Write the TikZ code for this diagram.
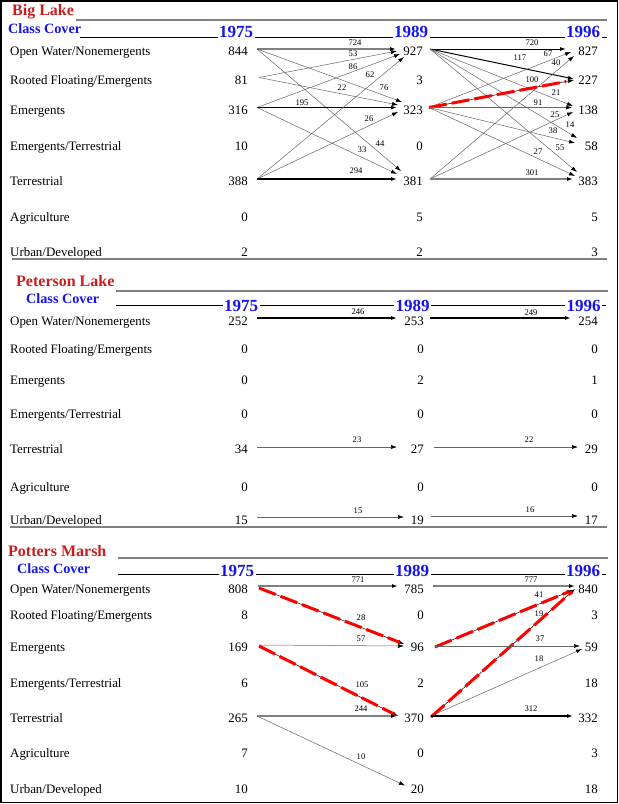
\documentclass[tikz,border=0pt]{standalone}
\usepackage{fontspec}
\setmainfont{Liberation Serif}
\usetikzlibrary{arrows.meta,calc}
\definecolor{ttlred}{RGB}{200,30,30}
\definecolor{yrblue}{RGB}{20,20,235}
\definecolor{secgray}{RGB}{128,128,128}
\tikzset{
  rowlbl/.style={anchor=base west, inner sep=0pt, font=\fontsize{12.9}{14}\selectfont},
  num/.style={anchor=east, inner sep=0pt, font=\fontsize{12.9}{14}\selectfont},
  flow/.style={font=\fontsize{8.6}{9}\selectfont, inner sep=0pt},
  ttl/.style={anchor=base west, inner sep=0pt, text=ttlred, font=\bfseries\fontsize{16}{18}\selectfont},
  cls/.style={anchor=base west, inner sep=0pt, text=yrblue, font=\bfseries\fontsize{14.2}{16}\selectfont},
  year/.style={anchor=base, fill=white, inner sep=1.5pt, text=yrblue, font=\bfseries\fontsize{17}{19}\selectfont},
  tipa/.style={-{Latex[length=6pt,width=4pt,color=black]}},
  fthin/.style={tipa, draw=black!60, line width=0.5pt},
  fgray/.style={tipa, draw=black!50, line width=1.6pt},
  fblack/.style={tipa, draw=black, line width=1.4pt},
  fmed/.style={tipa, draw=black, line width=1pt},
  fbase/.style={tipa, draw=black, line width=0.5pt},
  fred/.style={draw=red, line width=3pt, dash pattern=on 18pt off 5pt},
  secline/.style={draw=secgray, line width=2pt},
  hdline/.style={draw=black, line width=1pt},
}
\begin{document}
\begin{tikzpicture}[x=1pt,y=-1pt]
\useasboundingbox (0,0) rectangle (619,804);
\draw[line width=1.2pt] (1,1) rectangle (617.5,802.5);

%% ================= Big Lake =================
\node[ttl] (bttl) at (12,15.7) {Big Lake};
\draw[secline] (76,20) -- (607,20);
\node[cls] (bcls) at (8,33.3) {Class Cover};
\draw[hdline] (80,37.3) -- (607,37.3);
\node[year] (by1) at (236,37.7) {1975};
\node[year] (by2) at (411,37.7) {1989};
\node[year] (by3) at (583,37.7) {1996};

\foreach \y/\t [count=\i] in {51.5/{Open Water/Nonemergents},80/{Rooted Floating/Emergents},110/{Emergents},146.5/{Emergents/Terrestrial},181.5/{Terrestrial},217/{Agriculture},252/{Urban/Developed}}
  \node[rowlbl] (bL\i) at (10,\y+4.4) {\t};

\foreach \a/\b/\c/\y [count=\i] in {844/927/827/51.5,81/3/227/80,316/323/138/110,10/0/58/146.5,388/381/383/181.5,0/5/5/217,2/2/3/252}{
  \node[num] (bA\i) at (248,\y) {\a};
  \node[num] (bB\i) at (423,\y) {\b};
  \node[num] (bC\i) at (598,\y) {\c};
}
\draw[secline] (12,258.8) -- (607,258.8);

% 1975 -> 1989
\draw[fgray]  ($(bA1.east)+(9,-2.5)$) -- ($(bB1.east)+(-27,-2.5)$) node[flow] at (355,43) {724};
\draw[fthin]  ($(bA1.east)+(9,-2.5)$) -- ($(bB3.east)+(-21,-8)$) node[flow] at (384,88) {76};
\draw[fthin]  ($(bA1.east)+(9,-2.5)$) -- ($(bB5.east)+(-22,-10.5)$) node[flow] at (380,144) {44};
\draw[fthin]  ($(bA2.east)+(11,-2.5)$) -- ($(bB1.east)+(-26,-0.5)$) node[flow] at (353,54) {53};
\draw[fthin]  ($(bA2.east)+(11,-2.5)$) -- ($(bB3.east)+(-25,-5)$) node[flow] at (342,88) {22};
\draw[fthin]  ($(bA3.east)+(9,-2.5)$) -- ($(bB1.east)+(-23,2.5)$) node[flow] at (353,67) {86};
\draw[fblack] ($(bA3.east)+(9,-2.5)$) -- ($(bB3.east)+(-26,-2.5)$) node[flow] at (302,103) {195};
\draw[fthin]  ($(bA3.east)+(9,-2.5)$) -- ($(bB5.east)+(-26,-7.5)$) node[flow] at (362,150) {33};
\draw[fthin]  ($(bA5.east)+(9,-2.5)$) -- ($(bB1.east)+(-19,5.5)$) node[flow] at (370,75) {62};
\draw[fthin]  ($(bA5.east)+(9,-2.5)$) -- ($(bB3.east)+(-25,2)$) node[flow] at (369,119) {26};
\draw[fblack] ($(bA5.east)+(9,-2.5)$) -- ($(bB5.east)+(-26,-2.5)$) node[flow] at (356,171) {294};

% 1989 -> 1996
\draw[fmed]   ($(bB1.east)+(7,-2.5)$) -- ($(bC1.east)+(-32,-2.5)$) node[flow] at (532,43) {720};
\draw[fmed]   ($(bB1.east)+(7,-2.5)$) -- ($(bC2.east)+(-24,-1)$) node[flow] at (520,58) {117};
\draw[fthin]  ($(bB1.east)+(7,-2.5)$) -- ($(bC3.east)+(-25,-4)$) node[flow] at (556,93) {21};
\draw[fthin]  ($(bB1.east)+(7,-2.5)$) -- ($(bC4.east)+(-21,-8.5)$) node[flow] at (570,125) {14};
\draw[fthin]  ($(bB1.east)+(7,-2.5)$) -- ($(bC5.east)+(-21,-9.5)$) node[flow] at (560,148) {55};
\draw[fthin]  ($(bB3.east)+(6,-2.5)$) -- ($(bC1.east)+(-27,0.5)$) node[flow] at (548,54) {67};
\draw[fbase]  ($(bB3.east)+(6,-2.5)$) -- ($(bC2.east)+(-24,0)$) node[flow] at (532,80) {100};
\draw[fred, shorten >=8pt] ($(bB3.east)+(6,-2.5)$) -- ($(bC2.east)+(-24,0)$);
\draw[fthin]  ($(bB3.east)+(6,-2.5)$) -- ($(bC3.east)+(-26,-2.5)$) node[flow] at (538,103) {91};
\draw[fthin]  ($(bB3.east)+(6,-2.5)$) -- ($(bC4.east)+(-23,-3.5)$) node[flow] at (553,131) {38};
\draw[fthin]  ($(bB3.east)+(6,-2.5)$) -- ($(bC5.east)+(-23,-5.5)$) node[flow] at (538,152) {27};
\draw[fthin]  ($(bB5.east)+(7,-2.5)$) -- ($(bC1.east)+(-24,4.5)$) node[flow] at (556,63) {40};
\draw[fthin]  ($(bB5.east)+(7,-2.5)$) -- ($(bC3.east)+(-25,2)$) node[flow] at (555,115) {25};
\draw[fgray]  ($(bB5.east)+(7,-2.5)$) -- ($(bC5.east)+(-25,-2.5)$) node[flow] at (532,173) {301};

%% ================= Peterson Lake =================
\node[ttl] (pttl) at (16,286) {Peterson Lake};
\draw[secline] (116,291) -- (608,291);
\node[cls] (pcls) at (26,303.3) {Class Cover};
\draw[hdline] (116,305) -- (606,305);
\node[year] (py1) at (241,311.7) {1975};
\node[year] (py2) at (412.5,311.7) {1989};
\node[year] (py3) at (583.5,311.7) {1996};

\foreach \y/\t [count=\i] in {321/{Open Water/Nonemergents},349/{Rooted Floating/Emergents},380/{Emergents},414/{Emergents/Terrestrial},449.5/{Terrestrial},487/{Agriculture},520/{Urban/Developed}}
  \node[rowlbl] (pL\i) at (10,\y+4.4) {\t};

\foreach \a/\b/\c/\y [count=\i] in {252/253/254/321,0/0/0/349,0/2/1/380,0/0/0/414,34/27/29/449.5,0/0/0/487,15/19/17/520}{
  \node[num] (pA\i) at (248,\y) {\a};
  \node[num] (pB\i) at (424,\y) {\b};
  \node[num] (pC\i) at (598,\y) {\c};
}
\draw[secline] (10,527) -- (607,527);

\draw[fblack] ($(pA1.east)+(9,-3)$) -- ($(pB1.east)+(-27,-3)$) node[flow] at (358,312) {246};
\draw[fblack] ($(pB1.east)+(6,-3)$) -- ($(pC1.east)+(-27,-3)$) node[flow] at (531,313) {249};
\draw[fthin]  ($(pA5.east)+(9,-2.5)$) -- ($(pB5.east)+(-27,-2.5)$) node[flow] at (357,440) {23};
\draw[fthin]  ($(pB5.east)+(10,-2.5)$) -- ($(pC5.east)+(-20,-2.5)$) node[flow] at (529,440) {22};
\draw[fthin]  ($(pA7.east)+(9,-3)$) -- ($(pB7.east)+(-20,-3)$) node[flow] at (358,511) {15};
\draw[fthin]  ($(pB7.east)+(7,-4)$) -- ($(pC7.east)+(-20,-4)$) node[flow] at (530,510) {16};

%% ================= Potters Marsh =================
\node[ttl] (mttl) at (8,556) {Potters Marsh};
\draw[secline] (118,558) -- (608,558);
\node[cls] (mcls) at (17,573.3) {Class Cover};
\draw[hdline] (118,574.3) -- (606,574.3);
\node[year] (my1) at (237,576.7) {1975};
\node[year] (my2) at (412,576.7) {1989};
\node[year] (my3) at (583,576.7) {1996};

\foreach \y/\t [count=\i] in {589/{Open Water/Nonemergents},615.5/{Rooted Floating/Emergents},647/{Emergents},683/{Emergents/Terrestrial},718/{Terrestrial},753.5/{Agriculture},789.5/{Urban/Developed}}
  \node[rowlbl] (mL\i) at (10,\y+4.4) {\t};

\foreach \a/\b/\c/\y [count=\i] in {808/785/840/589,8/0/3/615.5,169/96/59/647,6/2/18/683,265/370/332/718,7/0/3/753.5,10/20/18/789.5}{
  \node[num] (mA\i) at (248,\y) {\a};
  \node[num] (mB\i) at (424,\y) {\b};
  \node[num] (mC\i) at (598,\y) {\c};
}

\draw[fgray]  ($(mA1.east)+(10,-3)$) -- ($(mB1.east)+(-26,-3)$) node[flow] at (358,580) {771};
\draw[fgray]  ($(mB1.east)+(9,-3)$) -- ($(mC1.east)+(-23,-3)$) node[flow] at (531,580) {777};
\draw[fbase]  ($(mA1.east)+(11,-1)$) -- ($(mB3.east)+(-20,-3)$) node[flow] at (361,618) {28};
\draw[fred, shorten >=4pt] ($(mA1.east)+(11,-1)$) -- ($(mB3.east)+(-20,-3)$);
\draw[fthin]  ($(mA3.east)+(11,-2)$) -- ($(mB3.east)+(-20,-1)$) node[flow] at (361,639) {57};
\draw[fbase]  ($(mA3.east)+(11,-1)$) -- ($(mB5.east)+(-26,-2)$) node[flow] at (362,685) {105};
\draw[fred, shorten >=4pt] ($(mA3.east)+(11,-1)$) -- ($(mB5.east)+(-26,-2)$);
\draw[fgray]  ($(mA5.east)+(9,-2)$) -- ($(mB5.east)+(-27,-2)$) node[flow] at (361,709) {244};
\draw[fthin]  ($(mA5.east)+(9,-2)$) -- ($(mB7.east)+(-19,-4)$) node[flow] at (361,757) {10};
\draw[fbase]  ($(mB3.east)+(11,0)$) -- ($(mC1.east)+(-25,1)$) node[flow] at (539,595) {41};
\draw[fred, shorten >=4pt] ($(mB3.east)+(11,0)$) -- ($(mC1.east)+(-25,1)$);
\draw[fbase]  ($(mB5.east)+(7,-1)$) -- ($(mC1.east)+(-23,0)$) node[flow] at (539,614) {19};
\draw[fred, shorten >=4pt] ($(mB5.east)+(7,-1)$) -- ($(mC1.east)+(-23,0)$);
\draw[fthin]  ($(mB3.east)+(11,-1)$) -- ($(mC3.east)+(-18,-1)$) node[flow] at (540,639) {37};
\draw[fthin]  ($(mB5.east)+(7,-2)$) -- ($(mC3.east)+(-16,2)$) node[flow] at (539,659) {18};
\draw[fblack] ($(mB5.east)+(7,-2)$) -- ($(mC5.east)+(-25,-2)$) node[flow] at (531,709) {312};
\end{tikzpicture}
\end{document}
